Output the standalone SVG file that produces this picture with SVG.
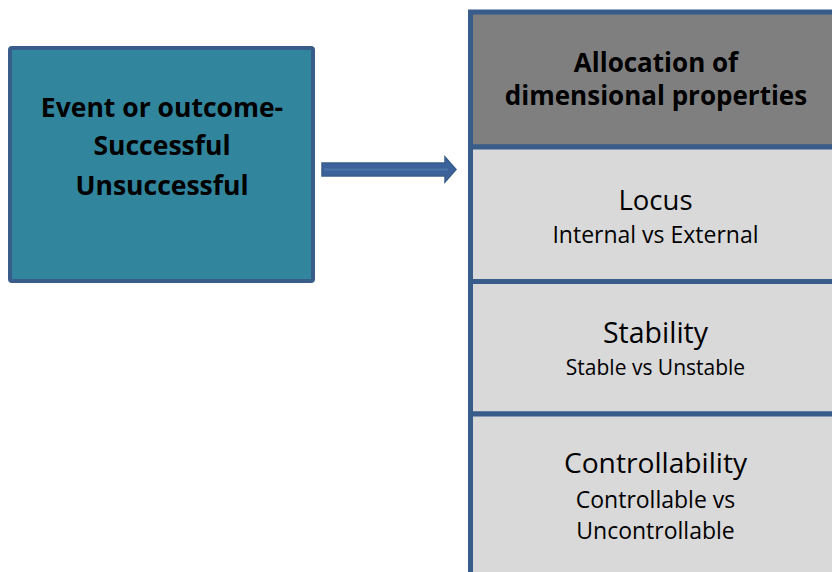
<svg xmlns="http://www.w3.org/2000/svg" width="832" height="572" viewBox="0 0 832 572">
<style>
.bd{stroke:#385D8A;stroke-width:5}
.b{font-family:"Open Sans","Noto Sans",sans-serif;font-weight:bold;fill:#000;text-anchor:middle}
.r{font-family:"Open Sans","Noto Sans",sans-serif;fill:#000;text-anchor:middle}
</style>
<rect width="832" height="572" fill="#fff"/>
<g id="event">
<rect x="10" y="48" width="303" height="233" rx="2" fill="#31859C" stroke="#385D8A" stroke-width="4"/>
<text class="b" x="162" y="117" font-size="26.5">Event or outcome-</text>
<text class="b" x="162" y="155" font-size="26.5">Successful</text>
<text class="b" x="162" y="195" font-size="26.5">Unsuccessful</text>
</g>
<g id="connectors">
<polygon points="322,163 445,163 445,157 456,169.5 445,182 445,176 322,176" fill="#3B629A" stroke="#385D8A" stroke-width="1.5"/>
<line x1="324" y1="169.5" x2="448" y2="169.5" stroke="#4A74AA" stroke-width="2"/>
</g>
<g id="header">
<rect x="470.5" y="12" width="400" height="135" fill="#7F7F7F" class="bd"/>
<text class="b" x="656" y="72" font-size="26">Allocation of</text>
<text class="b" x="656" y="105" font-size="26">dimensional properties</text>
</g>
<g id="locus">
<rect x="470.5" y="147" width="400" height="134.5" fill="#D9D9D9" class="bd"/>
<text class="r" x="655.5" y="210" font-size="27.5">Locus</text>
<text class="r" x="655.5" y="243" font-size="23">Internal vs External</text>
</g>
<g id="stability">
<rect x="470.5" y="281.5" width="400" height="132.5" fill="#D9D9D9" class="bd"/>
<text class="r" x="655.5" y="343" font-size="28.5">Stability</text>
<text class="r" x="655.5" y="375" font-size="21">Stable vs Unstable</text>
</g>
<g id="controllability">
<rect x="470.5" y="414" width="400" height="200" fill="#D9D9D9" class="bd"/>
<text class="r" x="655.5" y="473" font-size="28.2">Controllability</text>
<text class="r" x="655.5" y="508" font-size="23">Controllable vs</text>
<text class="r" x="655.5" y="539" font-size="23">Uncontrollable</text>
</g>
</svg>
